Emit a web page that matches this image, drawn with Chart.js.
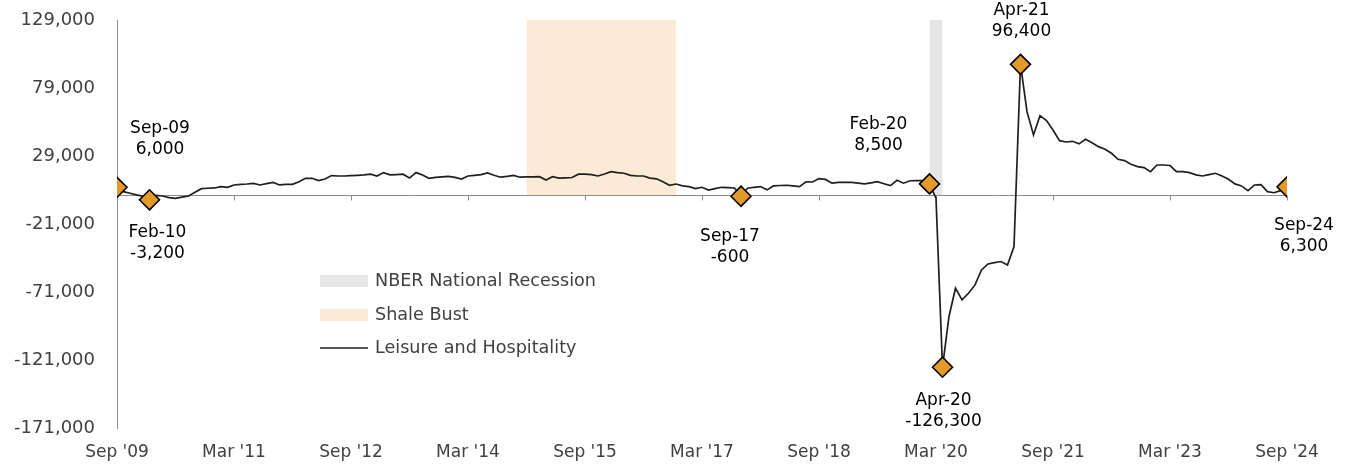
<!DOCTYPE html>
<html>
<head>
<meta charset="utf-8">
<script src="https://cdn.jsdelivr.net/npm/chart.js@4.4.1/dist/chart.umd.min.js"></script>
<style>
  html, body { margin: 0; padding: 0; background: #fff; }
  #wrap { width: 1350px; height: 468px; position: relative; }
</style>
</head>
<body>
<div id="wrap"><canvas id="chart"></canvas></div>
<script>
const FONT = "'DejaVu Sans', sans-serif"

// month labels Sep-09 .. Sep-24
const monthNames = ["Jan", "Feb", "Mar", "Apr", "May", "Jun", "Jul", "Aug", "Sep", "Oct", "Nov", "Dec"]
const months = []
for (let y = 2009; y <= 2024; y++) {
  for (let m = 0; m < 12; m++) {
    if (y === 2009 && m < 8) continue
    if (y === 2024 && m > 8) continue
    months.push(`${monthNames[m]}-${String(y).slice(2)}`)
  }
}

const tickLabels = ["Sep '09", "Mar '11", "Sep '12", "Mar '14", "Sep '15", "Mar '17",
  "Sep '18", "Mar '20", "Sep '21", "Mar '23", "Sep '24"]

// year-over-year change, one value per month
const leisureHospitality = [
  6000, 2800, 1600, 400, -600, -3200, 100, -400, -1600, -2100, -1300, -400,
  2300, 5000, 5300, 5500, 6500, 6000, 7700, 8200, 8400, 8900, 7700, 8700,
  9600, 7700, 8200, 8200, 10100, 12600, 12600, 10900, 12100, 14600, 14300, 14300,
  14600, 14800, 15100, 15600, 14300, 16800, 15100, 15300, 15600, 12800, 16800, 15000,
  12600, 13300, 13600, 14000, 13300, 12100, 14300, 14800, 15300, 16600, 14800, 13400,
  14000, 14800, 13400, 13600, 13600, 13800, 11300, 13800, 12700, 12900, 13200, 15600,
  15600, 15300, 14300, 15800, 17500, 16800, 16300, 14800, 14300, 14300, 12700, 12200,
  10000, 7500, 8400, 7000, 6500, 5000, 6000, 3900, 5000, 6000, 5800, 5500,
  -600, 5300, 6000, 6500, 4100, 7000, 7300, 7500, 7000, 6500, 10000, 9900,
  12400, 11800, 9000, 9600, 9600, 9600, 9000, 8500, 9300, 10100, 8600, 7200,
  11100, 9000, 10800, 10900, 10900, 8500, -2000, -126300, -89000, -68200, -76800, -71900,
  -65800, -54800, -50400, -49400, -48600, -51100, -37600, 96400, 61600, 44500, 58700, 55000,
  48100, 40300, 39300, 39800, 37900, 41300, 38800, 35900, 34000, 31000, 26600, 25600,
  22900, 21200, 20500, 17500, 22400, 22400, 22000, 17500, 17500, 16800, 15100, 14300,
  15300, 16300, 14300, 11900, 8500, 7000, 3500, 7700, 7900, 2800, 2000, 3500,
  6300,
]

const markerMonths = ["Sep-09", "Feb-10", "Sep-17", "Feb-20", "Apr-20", "Apr-21", "Sep-24"]
const shaleBust = ["Dec-14", "Nov-16"]
const nberRecession = ["Feb-20", "Apr-20"]
const yMin = -171000
const yMax = 129000
const yStep = 50000

// label placement around each marker: [dx, dy of first line]
const labelOffsets = {
  "Sep-09": [43, -59],
  "Feb-10": [8, 33],
  "Sep-17": [-11, 40],
  "Feb-20": [-51, -59],
  "Apr-20": [1, 33],
  "Apr-21": [1, -54],
  "Sep-24": [17, 39],
}

const fmt = (v) => v.toLocaleString("en-US")
const idx = (m) => months.indexOf(m)

const seriesPoints = leisureHospitality.map((v, i) => ({ x: i, y: v }))
const markerPoints = markerMonths.map((m) => ({ x: idx(m), y: leisureHospitality[idx(m)] }))
const band = (range) => range.map((m) => ({ x: idx(m), y: yMax }))

const colors = {
  recession: "#E6E6E6",
  shale: "#FAEAD6",
  line: "#1f1f1f",
  marker: "#E39A28",
  axis: "#8c8c8c",
  text: "#404040",
}

// zero line with tick marks hanging below it
const zeroAxis = {
  id: "zeroAxis",
  beforeDatasetsDraw(chart) {
    const { ctx, scales: { x, y } } = chart
    const y0 = Math.round(y.getPixelForValue(0)) + 0.5
    ctx.save()
    ctx.strokeStyle = colors.axis
    ctx.lineWidth = 1
    ctx.beginPath()
    ctx.moveTo(x.left, y0)
    ctx.lineTo(x.right, y0)
    x.ticks.forEach((t) => {
      const px = Math.round(x.getPixelForValue(t.value)) + 0.5
      ctx.moveTo(px, y0)
      ctx.lineTo(px, y0 + 5)
    })
    ctx.stroke()
    ctx.restore()
  },
}

const markerLabels = {
  id: "markerLabels",
  afterDatasetsDraw(chart) {
    const { ctx } = chart
    const meta = chart.getDatasetMeta(0)
    ctx.save()
    ctx.font = `17px ${FONT}`
    ctx.fillStyle = "#000"
    ctx.textAlign = "center"
    ctx.textBaseline = "middle"
    markerMonths.forEach((m, i) => {
      const pt = meta.data[i]
      const [dx, dy] = labelOffsets[m]
      ctx.fillText(m, pt.x + dx, pt.y + dy)
      ctx.fillText(fmt(markerPoints[i].y), pt.x + dx, pt.y + dy + 21)
    })
    ctx.restore()
  },
}

const legendBox = {
  id: "legendBox",
  afterDraw(chart) {
    const { ctx } = chart
    ctx.save()
    ctx.font = `17.6px ${FONT}`
    ctx.textBaseline = "middle"
    ctx.fillStyle = colors.recession
    ctx.fillRect(320, 275, 48, 12)
    ctx.fillStyle = colors.shale
    ctx.fillRect(320, 309, 48, 12)
    ctx.strokeStyle = colors.line
    ctx.lineWidth = 1.6
    ctx.beginPath()
    ctx.moveTo(320, 348)
    ctx.lineTo(368, 348)
    ctx.stroke()
    ctx.fillStyle = colors.text
    ctx.fillText("NBER National Recession", 375, 281)
    ctx.fillText("Shale Bust", 375, 315)
    ctx.fillText("Leisure and Hospitality", 375, 348)
    ctx.restore()
  },
}

const ctx = document.getElementById("chart").getContext("2d")
new Chart(ctx, {
  type: "line",
  data: {
    datasets: [
      {
        label: "Highlights",
        data: markerPoints,
        showLine: false,
        pointStyle: "rectRot",
        pointRadius: 10,
        backgroundColor: colors.marker,
        borderColor: "#000",
        borderWidth: 1.6,
      },
      {
        label: "Leisure and Hospitality",
        data: seriesPoints,
        borderColor: colors.line,
        borderWidth: 1.7,
        pointRadius: 0,
        tension: 0,
        fill: false,
      },
      {
        label: "NBER National Recession",
        data: band(nberRecession),
        borderWidth: 0,
        pointRadius: 0,
        backgroundColor: colors.recession,
        fill: "origin",
      },
      {
        label: "Shale Bust",
        data: band(shaleBust),
        borderWidth: 0,
        pointRadius: 0,
        backgroundColor: colors.shale,
        fill: "origin",
      },
    ],
  },
  options: {
    responsive: true,
    maintainAspectRatio: false,
    animation: false,
    layout: { padding: { top: 20, right: 63, left: 0, bottom: 0 } },
    plugins: {
      legend: { display: false },
      tooltip: { enabled: false },
      filler: { drawTime: "beforeDatasetsDraw" },
    },
    scales: {
      x: {
        type: "linear",
        min: 0,
        max: months.length - 1,
        grid: { display: false, drawTicks: false },
        border: { display: false },
        ticks: {
          stepSize: 18,
          autoSkip: false,
          maxRotation: 0,
          padding: 14,
          color: colors.text,
          font: { family: FONT, size: 17 },
          callback: (v) => tickLabels[v / 18],
        },
        afterFit: (scale) => {
          scale.height = 40
          scale.paddingLeft = 0
          scale.paddingRight = 0
        },
      },
      y: {
        min: yMin,
        max: yMax,
        grid: { display: false, drawTicks: false },
        border: { display: true, color: colors.axis, width: 1 },
        ticks: {
          stepSize: yStep,
          padding: 22,
          color: colors.text,
          font: { family: FONT, size: 18 },
          callback: (v) => fmt(v),
        },
        afterFit: (scale) => {
          scale.width = 117
          scale.paddingTop = 0
          scale.paddingBottom = 0
        },
      },
    },
  },
  plugins: [zeroAxis, markerLabels, legendBox],
})
</script>
</body>
</html>
